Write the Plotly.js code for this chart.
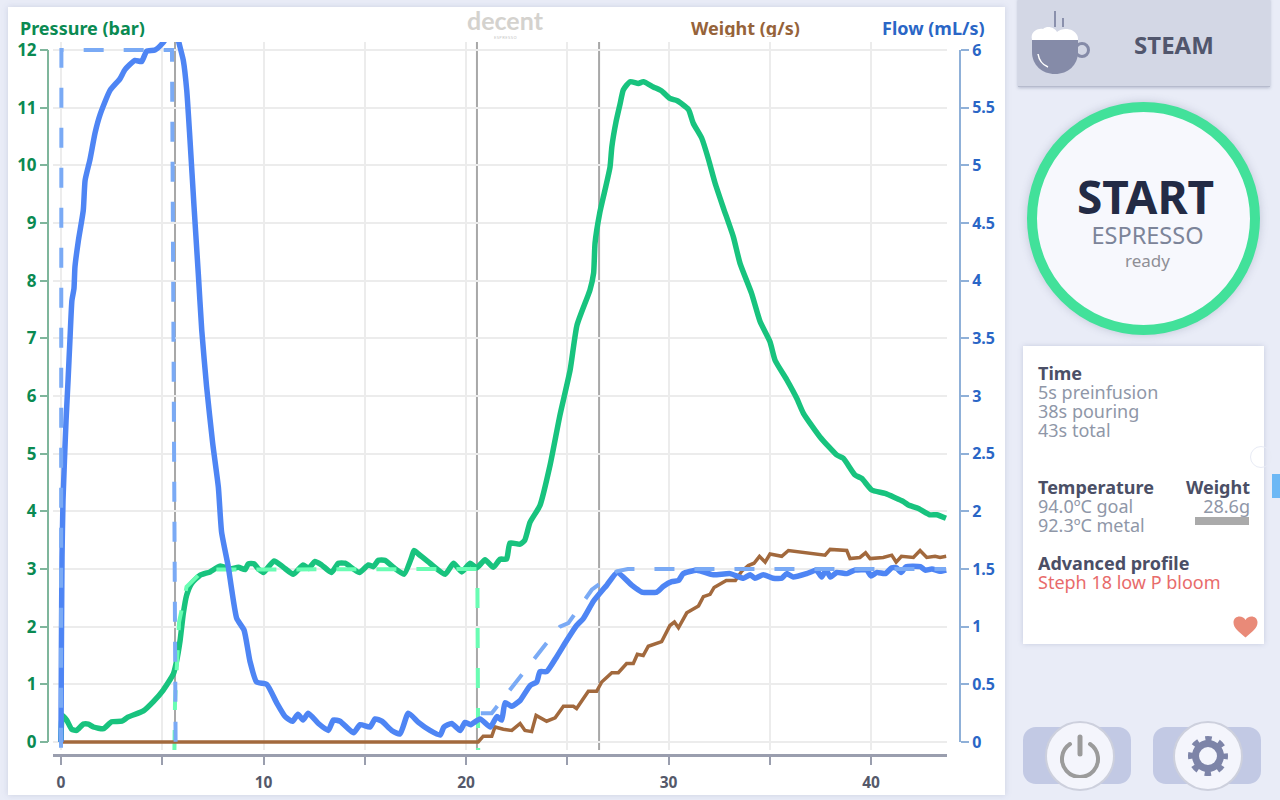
<!DOCTYPE html>
<html>
<head>
<meta charset="utf-8">
<script src="https://cdn.plot.ly/plotly-3.0.1.min.js"></script>
<style>
html, body {margin: 0; padding: 0; width: 1280px; height: 800px; overflow: hidden; background: #e9ecf7; font-family: "Noto Sans", sans-serif;}
.abs {position: absolute;}
#card {left: 8px; top: 7px; width: 997px; height: 788px; background: #fff; box-shadow: 0 0 6px rgba(120,130,170,.25);}
#chart {left: 0; top: 0; width: 1280px; height: 800px;}
.strip {background: #fff; top: 36.5px; height: 5px;}
#steam {left: 1018px; top: -2px; width: 252px; height: 88px; background: #d3d7e5; border-bottom: 1px solid #b6bbcd; box-shadow: 0 1px 3px rgba(100,110,140,.4);}
#steam span {position: absolute; left: 96px; width: 120px; top: 32px; text-align: center; font-size: 24px; font-weight: 700; color: #51566d; line-height: 30px;}
#ring {left: 1027px; top: 102px; width: 213px; height: 213px; border: 10px solid #42e19a; border-radius: 50%; background: #f7f8fd; box-shadow: 0 0 8px rgba(100,110,140,.3);}
.c {position: absolute; text-align: center; width: 233px; left: 1029px;}
#info {left: 1023px; top: 346px; width: 241px; height: 298px; background: #fff; box-shadow: 0 0 5px rgba(120,130,170,.3);}
.t {position: absolute; white-space: nowrap; font-size: 18px; line-height: 19px; color: #8f97a8;}
.h {font-weight: 700; color: #4b4f66;}
.btn {top: 727px; width: 108px; height: 57px; border-radius: 13px; background: #c2c9e4;}
.knob {top: 721px; width: 66px; height: 66px; border-radius: 50%; background: #f4f5fc; border: 2px solid #cdd0dd;}
</style>
</head>
<body>
<div id="card" class="abs"></div>
<div id="chart" class="abs"></div>
<div class="abs strip" style="left:10px;width:450px"></div>
<div class="abs strip" style="left:560px;width:440px"></div>
<div class="abs" style="left:470px;top:34.500px;width:71px;text-align:center;font-size:4px;line-height:5px;letter-spacing:.5px;color:#c4c4c4">ESPRESSO</div>

<div id="steam" class="abs"><span>STEAM</span></div>
<svg class="abs" style="left:1028px;top:8px" width="66" height="70" viewBox="0 0 66 70">
  <path d="M27 3V19M35 10V19" stroke="#8a90ac" stroke-width="2" fill="none"/>
  <circle cx="54" cy="42" r="6.500" fill="none" stroke="#858ba8" stroke-width="3"/>
  <path d="M4 32H50V44C50 57 40 66 27 66C14 66 4 57 4 44Z" fill="#858ba8"/>
  <path d="M4 32C2 24 9 20 15 21C20 17 27 20 29 24C34 19 46 20 49 27C50 29 50 30 50 32Z" fill="#fff"/>
  <path d="M10 46C11 52 15 57 20 59" stroke="#fff" stroke-width="1.500" fill="none"/>
</svg>

<div id="ring" class="abs"></div>
<div class="c" style="top:174px;font-size:46px;line-height:44px;font-weight:700;color:#232b45">START</div>
<div class="c" style="top:222px;left:1031px;font-size:23.500px;line-height:26px;color:#7c8499">ESPRESSO</div>
<div class="c" style="top:251px;left:1031px;font-size:17px;line-height:20px;color:#8f8f96">ready</div>

<div id="info" class="abs"></div>
<div class="abs t h" style="left:1038px;top:364px">Time</div>
<div class="abs t" style="left:1038px;top:383px">5s preinfusion</div>
<div class="abs t" style="left:1038px;top:402px">38s pouring</div>
<div class="abs t" style="left:1038px;top:421px">43s total</div>
<div class="abs t h" style="left:1038px;top:478px">Temperature</div>
<div class="abs t" style="left:1038px;top:497px">94.0ºC goal</div>
<div class="abs t" style="left:1038px;top:516px">92.3ºC metal</div>
<div class="abs t h" style="right:30px;top:478px">Weight</div>
<div class="abs t" style="right:30px;top:497px">28.6g</div>
<div class="abs" style="left:1195px;top:517px;width:54px;height:8px;background:#aaa"></div>
<div class="abs t h" style="left:1038px;top:554px">Advanced profile</div>
<div class="abs t" style="left:1038px;top:573px;color:#e86b6b">Steph 18 low P bloom</div>
<svg class="abs" style="left:1233px;top:616px" width="25" height="22" viewBox="0 0 25 22">
  <path d="M12.5 21.5C6 16 .5 12 .5 6.5C.5 2.5 3.5 .5 6.5 .5C9 .5 11.5 2 12.5 4C13.5 2 16 .5 18.5 .5C21.5 .5 24.500 2.500 24.500 6.500C24.500 12 19 16 12.500 21.500Z" fill="#e98a78"/>
</svg>
<div class="abs" style="left:1250px;top:446px;width:20px;height:20px;border:1.500px solid #e8ebf5;border-radius:50%"></div>
<div class="abs" style="left:1272px;top:474px;width:8px;height:24px;background:#6db8f5"></div>

<div class="abs btn" style="left:1023px"></div>
<div class="abs knob" style="left:1045px"></div>
<svg class="abs" style="left:1058px;top:734px" width="44" height="44" viewBox="0 0 44 44">
  <path d="M12 10A18 18 0 1 0 32 10" fill="none" stroke="#9b9b9b" stroke-width="4" stroke-linecap="round"/>
  <path d="M22 3V20" stroke="#9b9b9b" stroke-width="5" stroke-linecap="round"/>
</svg>
<div class="abs btn" style="left:1153px"></div>
<div class="abs knob" style="left:1173px"></div>
<svg class="abs" style="left:1186px;top:734px" width="44" height="44" viewBox="0 0 44 44">
  <circle cx="22" cy="22" r="12.500" fill="none" stroke="#7d84a8" stroke-width="7"/>
  <circle cx="22" cy="22" r="17.500" fill="none" stroke="#7d84a8" stroke-width="5" stroke-dasharray="6.500 7.240" stroke-dashoffset="3.250"/>
</svg>

<script>
// values: time in seconds, pressure in bar, flow in mL/s, weight in g/s
const pressureTime = [0, .07, .28, .53, .77, 1.1, 1.35, 1.6, 2.1, 2.5,
    3, 3.3, 4.07, 4.56, 5.05, 5.55, 5.7, 5.88, 6.04, 6.2,
    6.45, 6.86, 7.36, 7.85, 8.35, 8.76, 9.09, 9.25, 9.53, 9.75,
    10, 10.52, 10.98, 11.47, 11.95, 12.23, 12.54, 12.87, 13.35, 13.7,
    14.03, 14.73, 15.18, 15.42, 15.67, 16, 16.41, 16.94, 17.32, 17.43,
    17.65, 18.22, 18.97, 19.38, 19.79, 20.2, 20.53, 20.94, 21.35, 21.68,
    22, 22.17, 22.67, 22.9, 23.16, 23.65, 24.15, 24.64, 25.14, 25.48,
    26.12, 26.3, 26.37, 26.6, 26.86, 27.11, 27.2, 27.41, 27.61, 27.77,
    28.1, 28.51, 28.76, 29.25, 29.66, 30.07, 30.43, 30.98, 31.22, 31.64,
    31.96, 32.3, 32.71, 33.2, 33.53, 34.1, 34.52, 35.01, 35.26, 35.84,
    36.33, 36.66, 37.48, 38.3, 38.63, 39.21, 39.54, 40.03, 40.69, 41.6,
    41.84, 42.34, 42.91, 43.24, 43.7];
const pressureValues = [0, .46, .38, .22, .2, .31, .31, .26, .23, .35,
    .36, .43, .54, .7, .9, 1.18, 1.39, 1.76, 2.23, 2.54,
    2.75, 2.89, 2.95, 3.05, 3, 3.03, 2.99, 3.09, 3.09, 3,
    2.94, 3.14, 3.03, 2.91, 3.07, 3.01, 3.13, 3.07, 2.94, 3.1,
    3.1, 2.94, 3.07, 3.04, 3.15, 3.15, 3.03, 2.91, 3.21, 3.32,
    3.26, 3.1, 2.91, 3.1, 2.95, 3.1, 3.02, 3.16, 3.03, 3.17,
    3.17, 3.45, 3.43, 3.5, 3.81, 4.1, 4.8, 5.67, 6.45, 7.23,
    7.84, 8.13, 8.65, 9.17, 9.57, 9.97, 10.32, 10.76, 11.07, 11.31,
    11.45, 11.42, 11.45, 11.36, 11.29, 11.16, 11.12, 10.97, 10.73, 10.47,
    10.12, 9.69, 9.26, 8.76, 8.3, 7.78, 7.29, 6.94, 6.62, 6.28,
    5.96, 5.7, 5.29, 4.98, 4.92, 4.63, 4.57, 4.37, 4.31, 4.17,
    4.11, 4.05, 3.94, 3.94, 3.88];

const flowTime = [0, .02, .05, .1, .25, .35, .44, .54, .64, .69,
    .86, 1.1, 1.19, 1.43, 1.68, 1.93, 2.42, 2.91, 3.16, 3.65,
    3.98, 4.23, 4.64, 4.97, 5.14, 5.4, 5.6, 5.8, 6.04, 6.21,
    6.37, 6.57, 6.78, 6.95, 7.19, 7.49, 7.77, 7.93, 8.26, 8.43,
    8.68, 9.04, 9.33, 9.66, 10.16, 10.65, 11.07, 11.43, 11.7, 11.95,
    12.21, 12.71, 13.2, 13.45, 13.78, 14.44, 14.77, 15.26, 15.51, 15.84,
    16.33, 16.74, 17.15, 17.65, 18.22, 18.72, 18.91, 19.29, 19.71, 19.95,
    20.23, 20.69, 21.2, 21.52, 21.76, 21.93, 22.26, 22.67, 23.17, 23.49,
    23.65, 23.98, 24.48, 24.97, 25.46, 25.79, 26.29, 26.95, 27.47, 28.18,
    28.68, 29.42, 29.75, 30.16, 30.49, 30.73, 31.39, 32.21, 33.04, 33.7,
    34.03, 34.27, 34.68, 35.17, 35.59, 35.83, 36.16, 36.82, 37.31, 37.56,
    37.78, 38, 38.3, 38.8, 39.2, 39.8, 39.99, 40.29, 40.7, 41.02,
    41.26, 41.48, 41.73, 42.43, 42.67, 43, 43.41, 43.71];
const flowValues = [0, .8, 1.6, 2.1, 2.79, 3.14, 3.48, 3.83, 3.93, 4.12,
    4.35, 4.61, 4.87, 5.05, 5.28, 5.44, 5.65, 5.75, 5.83, 5.91,
    5.9, 5.99, 6, 6.05, 6.09, 6.25, 6.25, 6.08, 5.91, 5.65,
    5.22, 4.64, 4.06, 3.57, 3.08, 2.59, 2.21, 1.82, 1.52, 1.32,
    1.07, .97, .7, .52, .5, .34, .22, .18, .24, .19,
    .25, .16, .1, .19, .18, .08, .15, .13, .2, .18,
    .1, .07, .25, .17, .1, .06, .13, .16, .1, .17,
    .15, .2, .13, .22, .19, .34, .31, .36, .49, .52,
    .61, .61, .74, .88, 1.01, 1.07, 1.22, 1.36, 1.47, 1.36,
    1.3, 1.3, 1.35, 1.39, 1.4, 1.46, 1.49, 1.45, 1.46, 1.42,
    1.45, 1.42, 1.45, 1.42, 1.42, 1.46, 1.43, 1.46, 1.49, 1.43,
    1.49, 1.43, 1.47, 1.46, 1.49, 1.49, 1.44, 1.47, 1.46, 1.51,
    1.51, 1.47, 1.52, 1.52, 1.49, 1.5, 1.48, 1.49];

const weightTime = [0, .3, .5, 1.2, 1.4, 4.4, 4.7, 5.6, 6, 6.6,
    7.2, 8.5, 9.4, 9.7, 11, 12.2, 14, 16.5, 18.9, 20.6,
    20.85, 21.27, 21.43, 21.84, 22.26, 22.67, 22.91, 23.24, 23.46, 23.98,
    24.4, 24.81, 25.3, 25.46, 26.04, 26.45, 26.7, 27.2, 27.52, 27.93,
    28.26, 28.46, 28.75, 29, 29.66, 30.07, 30.29, 30.49, 30.9, 31.48,
    31.72, 32.05, 32.25, 32.85, 33.3, 33.61, 33.94, 34.22, 34.49, 34.77,
    35.01, 35.59, 35.92, 36.82, 37.73, 37.98, 38.8, 38.96, 39.45, 39.73,
    39.95, 40.6, 41.02, 41.24, 41.5, 42.09, 42.42, 42.75, 43.16, 43.41, 43.71];
const weightValues = [0, 0, .004, 0, .004, 0, .004, 0, .004, 0,
    .004, .004, 0, .004, 0, .004, 0, .004, 0, 0,
    .05, .05, .13, .11, .1, .16, .1, .09, .23, .18,
    .21, .31, .31, .29, .44, .44, .52, .6, .6, .68,
    .68, .76, .75, .83, .87, 1.01, 1.04, .99, 1.12, 1.18,
    1.26, 1.28, 1.34, 1.4, 1.4, 1.48, 1.53, 1.55, 1.61, 1.56,
    1.63, 1.61, 1.66, 1.64, 1.62, 1.67, 1.66, 1.59, 1.6, 1.64,
    1.59, 1.6, 1.62, 1.56, 1.61, 1.6, 1.66, 1.6, 1.61, 1.6, 1.61];

// goal lines: null splits the flow goal into its two phases
const goalPressureTime = [5.6, 5.63, 5.83, 6.2, 6.86, 7.52, 20.5, 20.56, 20.6];
const goalPressureValues = [-.14, .69, 2.08, 2.69, 2.92, 2.99, 3, 3, -.14];
const goalFlowTime = [0, .02, 5.48, 5.66, null, 20.73, 21.27, 24.39, 24.64, 25.05, 26.21, 27.44, 27.99, 43.7];
const goalFlowValues = [-.05, 6, 6, -.05, null, .25, .25, .95, 1, 1.03, 1.32, 1.48, 1.5, 1.5];

const frameTimes = [5.63, 20.54, 26.57];

const xTickVals = [0, 5, 10, 15, 20, 25, 30, 35, 40];
const xTickText = ['0', '', '10', '', '20', '', '30', '', '40'];
const pressureTicks = [0, 1, 2, 3, 4, 5, 6, 7, 8, 9, 10, 11, 12];
const flowTicks = [0, .5, 1, 1.5, 2, 2.5, 3, 3.5, 4, 4.5, 5, 5.5, 6];
const flowTickText = ['0', '0.5', '1', '1.5', '2', '2.5', '3', '3.5', '4', '4.5', '5', '5.5', '6'];

const fontFamily = '"Noto Sans", sans-serif';
const px = v => v / 1280;
const py = v => (800 - v) / 800;

function axisLabel(text, x, anchor, color) {
    return {
        text: '<b>' + text + '</b>', xref: 'paper', yref: 'paper', x: px(x), y: py(28),
        xanchor: anchor, yanchor: 'middle', showarrow: false,
        font: {family: fontFamily, size: 18, color: color}
    };
}

const traces = [
    {x: weightTime, y: weightValues, yaxis: 'y2', mode: 'lines', line: {color: '#a2693d', width: 3.5}},
    {x: pressureTime, y: pressureValues, mode: 'lines', line: {color: '#18c37e', width: 5.5, shape: 'spline', smoothing: 0.5}},
    {x: flowTime, y: flowValues, yaxis: 'y2', mode: 'lines', line: {color: '#4e85f4', width: 5.5, shape: 'spline', smoothing: 0.5}},
    {x: goalPressureTime, y: goalPressureValues, mode: 'lines', line: {color: '#69fdb3', width: 4, dash: '20px,20px'}},
    {x: goalFlowTime, y: goalFlowValues, yaxis: 'y2', mode: 'lines', line: {color: '#7aaaf5', width: 4, dash: '20px,20px'}}
];

const shapes = frameTimes.map(t => ({
    type: 'line', layer: 'below', xref: 'x', yref: 'paper', x0: t, x1: t, y0: py(750), y1: py(42),
    line: {color: '#a8a8a8', width: 2}
}));
// the side axes only span 0 to max, so they are not the library's full height axis line
shapes.push({type: 'line', xref: 'paper', yref: 'y', x0: px(48), x1: px(48), y0: 0, y1: 12, line: {color: '#7fb69c', width: 2}});
shapes.push({type: 'line', xref: 'paper', yref: 'y', x0: px(960), x1: px(960), y0: 0, y1: 12, line: {color: '#8fb0d8', width: 2}});

const layout = {
    width: 1280,
    height: 800,
    margin: {t: 0, b: 0, l: 0, r: 0},
    paper_bgcolor: 'rgba(0,0,0,0)',
    plot_bgcolor: 'rgba(0,0,0,0)',
    showlegend: false,
    font: {family: fontFamily},
    xaxis: {
        domain: [px(53), px(947)],
        range: [-0.395, 43.75],
        anchor: 'free',
        position: py(755),
        tickmode: 'array',
        tickvals: xTickVals,
        ticktext: xTickText,
        ticks: 'outside',
        ticklen: 8,
        tickwidth: 2,
        tickcolor: '#9a9eae',
        ticklabelstandoff: 5,
        showline: true,
        linecolor: '#9a9eae',
        linewidth: 2.5,
        gridcolor: '#ececec',
        gridwidth: 2,
        zeroline: false,
        tickfont: {family: fontFamily, size: 15.5, color: '#55596a', weight: 700}
    },
    yaxis: {
        domain: [py(750), py(42)],
        range: [-0.139, 12.139],
        anchor: 'free',
        position: px(48),
        side: 'left',
        tickmode: 'array',
        tickvals: pressureTicks,
        ticks: 'outside',
        ticklen: 8,
        tickwidth: 2,
        tickcolor: '#7fb69c',
        showline: false,
        gridcolor: '#ececec',
        gridwidth: 2,
        zeroline: false,
        tickfont: {family: fontFamily, size: 17, color: '#0a8a52', weight: 700}
    },
    yaxis2: {
        domain: [py(750), py(42)],
        range: [-0.0695, 6.0695],
        overlaying: 'y',
        anchor: 'free',
        position: px(960),
        side: 'right',
        tickmode: 'array',
        tickvals: flowTicks,
        ticktext: flowTickText,
        ticks: 'outside',
        ticklen: 8,
        tickwidth: 2,
        tickcolor: '#8fb0d8',
        showline: false,
        showgrid: false,
        zeroline: false,
        tickfont: {family: fontFamily, size: 16, color: '#2a66c6', weight: 700}
    },
    shapes: shapes,
    annotations: [
        axisLabel('Pressure (bar)', 18, 'left', '#0a8a52'),
        axisLabel('Weight (g/s)', 802, 'right', '#96633a'),
        axisLabel('Flow (mL/s)', 987, 'right', '#2a66c6'),
        {
            text: '<b>decent</b>', xref: 'paper', yref: 'paper', x: px(505.5), y: py(20),
            xanchor: 'center', yanchor: 'middle', showarrow: false,
            font: {family: 'Lato, sans-serif', size: 25, color: '#d4d2ce'}
        }
    ]
};

Plotly.newPlot('chart', traces, layout, {displayModeBar: false, staticPlot: true});
</script>
</body>
</html>
